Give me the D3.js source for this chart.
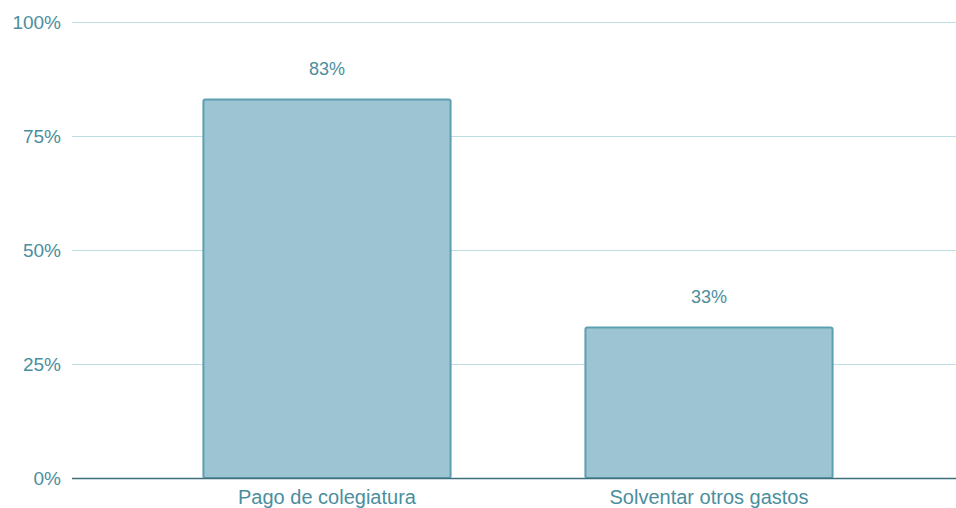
<!DOCTYPE html>
<html><head><meta charset="utf-8">
<script src="https://cdn.jsdelivr.net/npm/d3@7"></script>
<style>body{margin:0;background:#fff}svg{display:block}text{font-family:"Liberation Sans",Arial,sans-serif}</style>
</head><body><svg id="c" width="956" height="508"></svg>
<script>
const categories = ["Pago de colegiatura", "Solventar otros gastos"];
const values = [83, 33];
const yTicks = [0, 25, 50, 75, 100];

const svg = d3.select("#c");
const y = d3.scaleLinear().domain([0, 100]).range([478, 22]);
const x = d3.scaleBand().domain(categories).range([136, 900]).paddingInner(0.353).paddingOuter(0.1765);
const txt = "#4b8e9e";

svg.selectAll(".grid").data(yTicks.filter(d => d > 0)).join("line")
  .attr("x1", 72).attr("x2", 956)
  .attr("y1", d => y(d) + 0.5).attr("y2", d => y(d) + 0.5)
  .attr("stroke", "#bcdde2").attr("stroke-width", 1.2);

svg.selectAll(".tick").data(yTicks).join("text")
  .attr("x", 61).attr("y", d => y(d)).attr("dy", "0.35em")
  .attr("text-anchor", "end").attr("font-size", 19).attr("fill", txt)
  .text(d => d + "%");

svg.selectAll(".bar").data(values).join("rect")
  .attr("x", (d, i) => x(categories[i])).attr("width", x.bandwidth())
  .attr("y", d => y(d)).attr("height", d => y(0) - y(d))
  .attr("rx", 2).attr("fill", "#9dc4d2").attr("stroke", "#5d9fb1").attr("stroke-width", 2);

svg.append("line").attr("x1", 72).attr("x2", 956).attr("y1", 478.5).attr("y2", 478.5)
  .attr("stroke", "#3e6f7b").attr("stroke-width", 1.5);

svg.selectAll(".val").data(values).join("text")
  .attr("x", (d, i) => x(categories[i]) + x.bandwidth() / 2).attr("y", d => y(d) - 31)
  .attr("dy", "0.35em").attr("text-anchor", "middle").attr("font-size", 18).attr("fill", txt)
  .text(d => d + "%");

svg.selectAll(".cat").data(categories).join("text")
  .attr("x", d => x(d) + x.bandwidth() / 2).attr("y", 497).attr("dy", "0.35em")
  .attr("text-anchor", "middle").attr("font-size", 20).attr("fill", txt)
  .text(d => d);
</script></body></html>
